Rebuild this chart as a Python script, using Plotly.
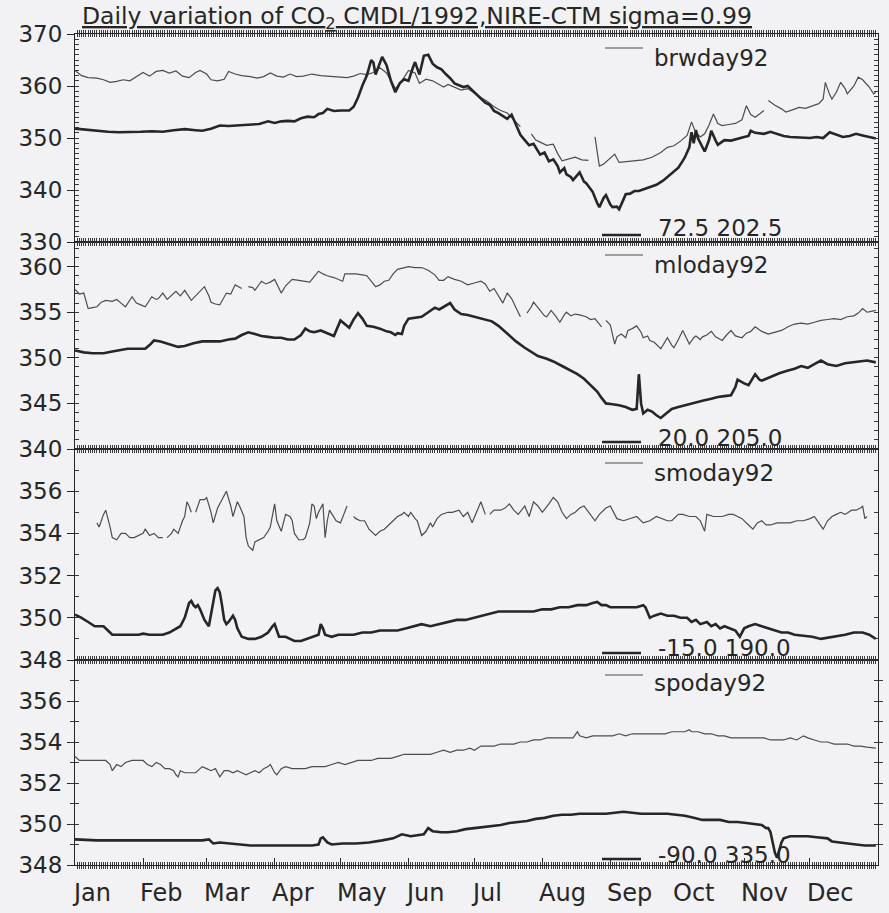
import plotly.graph_objects as go

# ---------------------------------------------------------------------------
# Daily CO2 (ppmv), 1992.  Day index 0 = 1 Jan.  Thin = station record,
# thick = NIRE-CTM model at sigma=0.99.  None marks a gap in the record.
# ---------------------------------------------------------------------------
MONTHS = ["Jan", "Feb", "Mar", "Apr", "May", "Jun",
          "Jul", "Aug", "Sep", "Oct", "Nov", "Dec"]
MONTH_START = [0, 31, 60, 91, 121, 152, 182, 213, 244, 274, 305, 335]

STATIONS = ["brwday92", "mloday92", "smoday92", "spoday92"]
SITE_COORDS = ["72.5 202.5", "20.0 205.0", "-15.0 190.0", "-90.0 335.0"]

brw_obs = [
    (0, 363.0), (3, 362.0), (6, 361.6), (10, 361.5), (13, 361.2), (16, 360.7),
    (19, 360.9), (22, 361.2), (25, 361.0), (28, 361.8), (31, 362.6), (34, 361.9),
    (37, 362.8), (40, 363.0), (43, 362.5), (46, 362.9), (49, 361.9), (52, 361.6),
    (55, 362.6), (57, 363.0), (60, 362.3), (62, 361.2), (65, 361.0), (68, 361.3),
    (70, 362.8), (73, 362.3), (76, 362.0), (80, 361.8), (83, 361.5), (86, 361.8),
    (89, 362.5), (92, 361.9), (95, 361.7), (98, 362.3), (101, 361.8), (104, 361.9),
    (108, 362.3), (112, 362.0), (116, 361.9), (120, 361.8), (124, 361.6),
    (127, 361.9), (130, 362.4), (133, 362.2), (136, 362.6), (139, 363.5),
    (142, 362.5), (146, 359.5), (149, 361.0), (152, 363.0), (155, 362.5),
    (157, 360.5), (160, 361.3), (163, 361.0), (166, 360.2), (168, 359.8),
    (170, 360.3), (173, 359.8), (176, 359.2), (179, 359.5), (182, 358.6),
    (185, 357.8), (188, 357.0), (191, 356.0), (194, 355.3), (197, 354.8),
    (200, 353.5), (203, 352.2), (205, None), (208, 350.8), (210, 349.6),
    (212, 349.2), (215, 348.6), (218, 348.8), (220, 347.0), (222, 345.6),
    (225, 346.0), (228, 346.3), (231, 345.8), (234, 345.7), (236, None),
    (237, 350.2), (239, 344.6), (241, 345.0), (243, 345.7), (246, 346.9),
    (248, 345.3), (251, 345.4), (255, 345.6), (259, 345.8), (263, 346.3),
    (267, 347.2), (270, 348.2), (273, 348.5), (276, 349.4), (279, 350.5),
    (281, 353.1), (283, 351.0), (285, 350.2), (287, 350.8), (289, 352.5),
    (291, 354.6), (293, 352.8), (295, 352.4), (298, 352.6), (301, 352.8),
    (304, 353.5), (306, 356.2), (308, 354.5), (310, 354.0), (312, 354.6),
    (314, 355.3), (315, None), (316, 357.2), (319, 356.3), (322, 355.6),
    (324, 355.0), (327, 355.4), (330, 355.9), (333, 355.7), (336, 356.2),
    (339, 356.6), (341, 357.5), (342, 360.7), (344, 358.3), (345, 357.5),
    (347, 358.8), (349, 360.7), (351, 359.5), (352, 358.5), (355, 360.0),
    (357, 361.7), (359, 361.2), (360, 360.7), (362, 359.8), (364, 358.5),
    (365, 358.8),
]

brw_model = [
    (0, 351.8), (5, 351.6), (10, 351.3), (15, 351.2), (20, 351.1), (25, 351.1),
    (30, 351.2), (35, 351.3), (40, 351.2), (45, 351.5), (50, 351.7), (55, 351.5),
    (58, 351.4), (62, 351.8), (66, 352.4), (70, 352.3), (75, 352.4), (80, 352.5),
    (84, 352.7), (88, 353.2), (91, 352.9), (94, 353.2), (97, 353.3), (100, 353.2),
    (103, 353.8), (106, 354.1), (109, 354.0), (111, 354.6), (113, 354.8),
    (115, 355.6), (118, 355.2), (121, 355.3), (125, 355.3), (127, 356.0),
    (129, 357.8), (131, 360.1), (133, 362.0), (135, 365.0), (136, 364.5),
    (137, 362.2), (139, 364.5), (140, 365.6), (142, 364.0), (144, 361.0),
    (146, 358.8), (148, 360.5), (150, 361.3), (152, 361.0), (154, 363.5),
    (155, 364.6), (157, 362.2), (159, 365.8), (161, 366.0), (163, 364.3),
    (165, 363.6), (167, 363.2), (169, 362.3), (171, 361.5), (173, 360.5),
    (175, 360.2), (177, 359.8), (179, 360.0), (181, 359.2), (183, 358.5),
    (185, 357.6), (187, 356.8), (189, 356.4), (191, 355.2), (193, 354.8),
    (195, 354.3), (197, 353.7), (199, 354.5), (201, 352.6), (203, 350.6),
    (205, 349.6), (207, 348.6), (209, 348.9), (211, 347.4), (212, 346.8),
    (214, 347.2), (216, 345.5), (218, 345.9), (220, 344.6), (221, 343.4),
    (223, 344.2), (224, 343.0), (226, 342.5), (227, 341.9), (229, 343.0),
    (230, 343.4), (232, 341.6), (233, 341.3), (235, 340.2), (236, 339.6),
    (238, 337.5), (239, 336.7), (241, 338.5), (242, 339.0), (244, 337.2),
    (245, 336.7), (247, 336.8), (248, 336.3), (250, 338.2), (251, 339.2),
    (253, 339.3), (255, 339.8), (257, 339.8), (260, 340.3), (263, 340.8),
    (265, 341.0), (268, 341.8), (270, 342.5), (272, 343.1), (275, 344.3),
    (277, 345.6), (278, 346.3), (280, 348.2), (281, 351.1), (282, 349.0),
    (283, 351.5), (284, 349.9), (286, 348.3), (287, 347.4), (289, 349.6),
    (290, 351.4), (292, 349.5), (293, 348.7), (295, 349.3), (296, 349.6),
    (299, 349.5), (302, 349.9), (305, 350.2), (307, 350.4), (308, 351.4),
    (310, 351.0), (314, 350.8), (317, 351.2), (320, 350.8), (323, 350.4),
    (326, 350.2), (329, 350.1), (332, 350.0), (335, 350.0), (338, 350.2),
    (341, 350.0), (344, 351.1), (347, 350.6), (350, 350.2), (353, 350.4),
    (356, 350.8), (359, 350.5), (362, 350.2), (365, 349.9),
]

mlo_obs = [
    (0, 357.5), (2, 357.0), (4, 357.1), (6, 355.4), (8, 355.5), (10, 355.6),
    (12, 356.1), (14, 356.3), (17, 356.2), (19, 356.4), (21, 356.0), (23, 355.6),
    (26, 356.7), (28, 356.0), (30, 355.8), (32, 355.6), (35, 356.7), (37, 356.4),
    (38, 356.5), (40, 357.1), (42, 356.4), (44, 356.9), (46, 357.3), (48, 356.8),
    (50, 357.4), (53, 356.3), (55, 356.8), (57, 357.2), (59, 357.8), (61, 356.8),
    (62, 356.1), (64, 355.9), (66, 355.8), (69, 357.1), (71, 357.0), (73, 358.0),
    (76, 357.6), (77, None), (79, 357.8), (81, 357.7), (82, 357.4), (85, 358.4),
    (87, 358.1), (89, 358.3), (91, 358.6), (93, 357.6), (94, 357.1), (96, 357.9),
    (99, 358.6), (102, 358.5), (104, 358.4), (107, 358.3), (109, 358.9),
    (111, 359.5), (113, 359.2), (115, 359.0), (118, 358.8), (120, 358.6),
    (122, 358.4), (123, 359.2), (126, 359.2), (128, 359.2), (131, 359.1),
    (133, 359.0), (135, 358.4), (137, 357.8), (139, 358.0), (141, 358.4),
    (143, 358.5), (145, 359.2), (147, 359.7), (150, 359.9), (152, 360.0),
    (155, 359.9), (158, 359.9), (161, 359.6), (164, 359.1), (166, 358.5),
    (168, 358.5), (170, 358.9), (173, 358.6), (176, 358.4), (179, 358.0),
    (182, 358.2), (185, 358.4), (187, 358.1), (189, 357.3), (191, 357.6),
    (193, 356.8), (195, 356.0), (197, 357.1), (199, 356.5), (201, 355.5),
    (203, 354.5), (204, None), (206, 354.9), (208, 355.6), (209, 356.1),
    (211, 355.5), (212, 355.2), (214, 354.6), (215, 354.5), (217, 355.2),
    (219, 354.6), (221, 353.9), (223, 354.7), (224, 355.0), (226, 354.6),
    (228, 354.8), (230, 354.7), (233, 354.5), (235, 354.2), (237, 354.3),
    (240, 353.4), (241, None), (242, 354.1), (244, 353.6), (246, 351.5),
    (247, 352.3), (249, 352.6), (251, 352.2), (252, 353.0), (254, 353.2),
    (256, 353.5), (258, 352.8), (259, 352.2), (261, 352.4), (262, 351.9),
    (264, 351.7), (267, 351.0), (269, 351.8), (270, 352.2), (272, 351.4),
    (273, 351.1), (275, 352.0), (277, 353.0), (279, 352.0), (280, 351.5),
    (282, 352.2), (283, 352.4), (285, 352.0), (286, 352.3), (288, 352.5),
    (290, 352.9), (292, 352.3), (295, 351.9), (297, 352.5), (299, 353.0),
    (301, 352.4), (304, 352.2), (306, 352.7), (308, 352.9), (310, 353.4),
    (313, 352.9), (316, 352.6), (319, 352.8), (322, 353.0), (325, 353.4),
    (328, 353.7), (331, 353.8), (334, 353.7), (337, 353.9), (340, 354.1),
    (343, 354.2), (346, 354.3), (349, 354.2), (352, 354.5), (355, 354.6),
    (357, 354.9), (359, 355.4), (361, 355.0), (363, 355.1), (365, 355.2),
]

mlo_model = [
    (0, 350.8), (4, 350.6), (8, 350.5), (13, 350.5), (17, 350.7), (21, 350.9),
    (24, 351.0), (28, 351.0), (32, 351.0), (34, 351.4), (36, 351.9), (39, 351.8),
    (42, 351.6), (45, 351.4), (47, 351.2), (50, 351.3), (54, 351.6), (58, 351.8),
    (62, 351.8), (66, 351.8), (70, 352.0), (73, 352.1), (76, 352.5), (79, 352.8),
    (82, 352.6), (85, 352.4), (88, 352.3), (91, 352.2), (94, 352.2), (97, 352.0),
    (100, 352.0), (103, 352.5), (105, 353.2), (107, 352.9), (109, 352.8),
    (112, 353.0), (115, 352.7), (118, 352.4), (121, 354.1), (123, 353.7),
    (125, 353.3), (127, 354.2), (129, 354.9), (131, 354.3), (133, 353.5),
    (136, 353.4), (139, 353.2), (142, 352.9), (144, 352.8), (146, 352.5),
    (147, 352.7), (149, 352.6), (150, 353.5), (152, 354.3), (155, 354.4),
    (158, 354.5), (161, 355.0), (164, 355.5), (166, 355.3), (168, 355.6),
    (171, 356.0), (173, 355.3), (176, 354.8), (179, 354.7), (182, 354.5),
    (186, 354.3), (190, 354.0), (193, 353.5), (197, 352.6), (201, 351.8),
    (205, 351.1), (208, 350.6), (211, 350.2), (215, 349.9), (218, 349.6),
    (222, 349.1), (226, 348.6), (229, 348.2), (232, 347.7), (235, 347.0),
    (238, 346.3), (240, 345.6), (242, 345.0), (245, 344.9), (248, 344.8),
    (251, 344.6), (254, 344.3), (256, 344.4), (257, 348.2), (258, 345.0),
    (259, 343.9), (261, 344.3), (263, 344.1), (265, 343.7), (267, 343.4),
    (269, 343.8), (272, 344.4), (275, 344.6), (278, 344.8), (282, 345.1),
    (286, 345.3), (290, 345.5), (293, 345.7), (296, 345.8), (299, 345.9),
    (301, 346.8), (302, 347.6), (305, 347.2), (307, 347.0), (309, 347.8),
    (310, 348.2), (312, 347.6), (313, 347.5), (317, 347.9), (321, 348.3),
    (325, 348.6), (328, 348.8), (331, 349.1), (334, 348.9), (337, 349.3),
    (340, 349.7), (343, 349.3), (347, 349.1), (351, 349.4), (355, 349.5),
    (358, 349.6), (361, 349.7), (365, 349.5),
]

smo_obs = [
    (10, 354.5), (11, 354.3), (13, 354.9), (14, 355.1), (16, 354.3), (17, 353.8),
    (19, 353.7), (21, 354.0), (23, 354.0), (25, 353.8), (27, 353.8), (29, 353.9),
    (31, 354.0), (32, 354.2), (34, 353.9), (36, 354.0), (38, 353.8), (40, 353.8),
    (41, None), (42, 353.8), (44, 354.0), (45, 354.2), (47, 354.0), (49, 354.6),
    (50, 354.8), (51, 355.5), (52, 355.3), (53, 355.0), (54, None), (55, 355.0),
    (57, 355.6), (59, 355.6), (60, 355.7), (62, 355.0), (63, 354.5), (65, 355.2),
    (66, 355.4), (68, 355.8), (69, 356.0), (71, 355.3), (72, 354.8), (74, 355.5),
    (75, 355.3), (77, 354.8), (78, 353.8), (79, 353.4), (81, 353.2), (82, 353.6),
    (84, 353.7), (86, 353.8), (88, 354.1), (89, 354.3), (91, 355.4), (92, 354.6),
    (94, 354.1), (95, 354.5), (96, 354.9), (98, 354.8), (99, 354.6), (100, 354.0),
    (102, 353.7), (104, 353.7), (105, 353.8), (107, 354.5), (108, 355.4),
    (109, 355.3), (110, 354.7), (111, 355.0), (113, 355.4), (114, 353.8),
    (115, 354.6), (116, 355.1), (118, 354.8), (119, 354.6), (121, 354.5),
    (123, 355.0), (124, 355.3), (125, None), (127, 354.8), (128, 354.7),
    (130, 354.6), (132, 354.6), (134, 354.2), (136, 354.0), (137, 353.9),
    (139, 354.1), (141, 354.2), (143, 354.4), (145, 354.6), (147, 354.8),
    (149, 354.9), (150, 355.0), (152, 354.8), (153, 355.0), (155, 354.7),
    (156, 354.6), (158, 353.9), (160, 354.1), (162, 354.5), (163, 354.3),
    (165, 354.7), (167, 354.9), (170, 355.0), (172, 355.0), (175, 355.1),
    (177, 354.8), (179, 355.0), (181, 354.5), (183, 355.0), (185, 355.5),
    (187, 354.9), (188, None), (189, 354.9), (191, 355.1), (194, 355.1),
    (196, 355.2), (198, 355.4), (200, 355.1), (202, 354.9), (205, 355.3),
    (207, 354.8), (209, 355.5), (211, 355.3), (213, 355.0), (216, 355.4),
    (218, 355.7), (220, 355.5), (222, 355.0), (224, 354.7), (226, 354.9),
    (228, 355.0), (230, 355.2), (232, 355.3), (234, 355.0), (237, 354.6),
    (239, 354.9), (240, 355.0), (242, 355.2), (244, 355.3), (246, 354.9),
    (247, 354.7), (250, 354.6), (253, 354.7), (256, 354.8), (259, 354.5),
    (262, 354.6), (265, 354.8), (268, 354.7), (270, 354.6), (272, 354.6),
    (275, 354.9), (277, 354.9), (280, 354.8), (283, 354.8), (285, 354.6),
    (287, 354.1), (288, 354.9), (291, 354.8), (293, 354.8), (295, 354.8),
    (298, 354.9), (300, 354.9), (302, 354.8), (304, 354.7), (307, 354.4),
    (309, 354.2), (311, 354.5), (313, 354.6), (315, 354.4), (317, 354.4),
    (320, 354.5), (323, 354.5), (326, 354.5), (329, 354.6), (332, 354.6),
    (335, 354.7), (337, 354.8), (339, 354.5), (341, 354.2), (343, 354.6),
    (345, 354.8), (347, 354.9), (349, 355.0), (351, 354.9), (354, 355.1),
    (356, 355.1), (358, 355.2), (359, 355.3), (360, 354.7), (361, 354.8),
]

smo_model = [
    (0, 350.15), (3, 350.0), (6, 349.8), (9, 349.6), (11, 349.6), (13, 349.6),
    (15, 349.4), (17, 349.2), (20, 349.2), (23, 349.2), (26, 349.2), (29, 349.2),
    (31, 349.25), (34, 349.2), (37, 349.2), (40, 349.2), (43, 349.3), (46, 349.5),
    (48, 349.6), (50, 350.0), (51, 350.3), (52, 350.7), (53, 350.8), (54, 350.6),
    (55, 350.5), (56, 350.6), (57, 350.4), (59, 349.9), (61, 349.6), (62, 350.2),
    (63, 350.9), (64, 351.3), (65, 351.4), (66, 351.2), (67, 350.6), (68, 349.9),
    (69, 349.7), (70, 349.8), (72, 350.1), (73, 349.9), (74, 349.5), (76, 349.1),
    (79, 349.0), (82, 349.0), (85, 349.1), (88, 349.3), (90, 349.6), (91, 349.7),
    (93, 349.1), (96, 349.1), (98, 349.0), (100, 348.9), (103, 348.9),
    (106, 349.0), (109, 349.1), (111, 349.2), (112, 349.7), (113, 349.5),
    (114, 349.2), (117, 349.1), (120, 349.2), (123, 349.2), (127, 349.2),
    (131, 349.3), (135, 349.3), (139, 349.4), (143, 349.4), (147, 349.4),
    (151, 349.5), (155, 349.6), (158, 349.7), (162, 349.6), (166, 349.7),
    (170, 349.8), (174, 349.9), (178, 349.9), (182, 350.0), (186, 350.1),
    (190, 350.2), (193, 350.3), (197, 350.3), (201, 350.3), (205, 350.3),
    (209, 350.3), (213, 350.4), (217, 350.4), (221, 350.5), (225, 350.5),
    (229, 350.6), (233, 350.6), (236, 350.7), (238, 350.75), (240, 350.6),
    (242, 350.6), (244, 350.5), (247, 350.5), (250, 350.5), (253, 350.5),
    (256, 350.5), (259, 350.6), (260, 350.5), (262, 350.0), (264, 350.1),
    (267, 350.2), (270, 350.1), (273, 350.1), (276, 350.0), (279, 350.0),
    (281, 349.8), (283, 349.9), (285, 349.7), (288, 349.8), (290, 349.6),
    (292, 349.7), (294, 349.5), (296, 349.6), (299, 349.5), (301, 349.4),
    (303, 349.1), (305, 349.5), (307, 349.6), (310, 349.7), (313, 349.6),
    (316, 349.5), (319, 349.4), (322, 349.3), (325, 349.3), (328, 349.2),
    (332, 349.15), (336, 349.1), (340, 349.0), (343, 349.05), (347, 349.1),
    (351, 349.2), (355, 349.3), (359, 349.3), (362, 349.2), (365, 349.0),
]

spo_obs = [
    (0, 353.3), (2, 353.1), (5, 353.1), (8, 353.1), (11, 353.1), (14, 353.1),
    (16, 352.9), (17, 352.6), (19, 352.9), (21, 352.8), (23, 353.0), (26, 353.1),
    (29, 353.1), (31, 353.1), (33, 352.9), (35, 352.8), (37, 353.0), (39, 352.9),
    (41, 352.7), (43, 352.7), (45, 352.6), (46, 352.4), (47, 352.3), (48, 352.6),
    (50, 352.5), (53, 352.5), (55, 352.5), (57, 352.7), (58, 352.8), (60, 352.7),
    (62, 352.6), (64, 352.7), (65, 352.5), (66, 352.3), (68, 352.6), (70, 352.6),
    (72, 352.5), (74, 352.6), (76, 352.5), (78, 352.4), (80, 352.5), (82, 352.6),
    (84, 352.5), (86, 352.7), (88, 352.8), (89, 352.9), (91, 352.5), (92, 352.4),
    (94, 352.7), (96, 352.8), (99, 352.7), (102, 352.7), (105, 352.7),
    (108, 352.8), (111, 352.8), (114, 352.8), (117, 352.9), (120, 353.0),
    (123, 352.9), (126, 353.0), (129, 353.1), (132, 353.1), (135, 353.1),
    (138, 353.2), (141, 353.2), (144, 353.2), (147, 353.3), (150, 353.4),
    (153, 353.4), (156, 353.4), (159, 353.4), (162, 353.4), (165, 353.5),
    (168, 353.6), (171, 353.5), (174, 353.6), (177, 353.6), (180, 353.7),
    (182, 353.6), (185, 353.8), (188, 353.8), (191, 353.8), (194, 353.9),
    (197, 353.9), (200, 353.9), (203, 354.0), (206, 354.0), (209, 354.1),
    (212, 354.1), (215, 354.2), (218, 354.2), (221, 354.2), (224, 354.2),
    (227, 354.2), (229, 354.5), (230, 354.3), (233, 354.2), (236, 354.3),
    (239, 354.3), (242, 354.3), (245, 354.3), (248, 354.4), (251, 354.3),
    (254, 354.4), (257, 354.4), (260, 354.4), (263, 354.4), (266, 354.4),
    (269, 354.4), (272, 354.5), (275, 354.5), (278, 354.5), (280, 354.6),
    (281, 354.5), (284, 354.5), (287, 354.4), (290, 354.4), (293, 354.3),
    (296, 354.3), (299, 354.2), (302, 354.2), (305, 354.2), (308, 354.2),
    (311, 354.2), (314, 354.2), (317, 354.1), (320, 354.1), (323, 354.1),
    (326, 354.2), (329, 354.1), (332, 354.3), (334, 354.2), (337, 354.1),
    (340, 354.0), (343, 354.0), (346, 353.9), (349, 353.9), (352, 353.9),
    (355, 353.8), (358, 353.8), (361, 353.75), (364, 353.7), (365, 353.7),
]

spo_model = [
    (0, 349.25), (10, 349.2), (20, 349.2), (30, 349.2), (40, 349.2), (50, 349.2),
    (58, 349.2), (61, 349.25), (63, 349.05), (66, 349.1), (70, 349.05),
    (75, 349.0), (80, 348.95), (90, 348.95), (100, 348.95), (108, 348.95),
    (111, 349.0), (112, 349.3), (113, 349.35), (115, 349.1), (117, 349.0),
    (122, 349.05), (128, 349.05), (134, 349.1), (140, 349.2), (145, 349.3),
    (149, 349.5), (153, 349.4), (156, 349.45), (159, 349.5), (161, 349.8),
    (163, 349.65), (167, 349.6), (170, 349.6), (174, 349.65), (178, 349.75),
    (182, 349.8), (186, 349.85), (190, 349.9), (194, 349.95), (198, 350.05),
    (202, 350.1), (206, 350.15), (210, 350.25), (214, 350.3), (218, 350.4),
    (222, 350.45), (226, 350.45), (230, 350.5), (234, 350.5), (238, 350.5),
    (242, 350.5), (246, 350.55), (250, 350.6), (254, 350.55), (258, 350.5),
    (262, 350.5), (266, 350.5), (270, 350.5), (274, 350.45), (278, 350.4),
    (282, 350.3), (286, 350.2), (290, 350.2), (294, 350.2), (298, 350.1),
    (302, 350.1), (306, 350.05), (310, 350.0), (313, 349.95), (315, 349.8),
    (316, 349.8), (317, 349.6), (318, 349.0), (319, 348.6), (320, 348.35),
    (321, 348.7), (322, 349.1), (323, 349.3), (326, 349.4), (330, 349.4),
    (334, 349.4), (338, 349.35), (341, 349.3), (343, 349.3), (345, 349.15),
    (348, 349.1), (352, 349.05), (356, 349.0), (360, 348.95), (365, 348.95),
]

# y range per panel and the step between labelled ticks
Y_RANGES = [(330, 370), (340, 362.7), (348, 358), (348, 358)]
Y_LABELS = [[330, 340, 350, 360, 370], [340, 345, 350, 355, 360],
            [348, 350, 352, 354, 356], [348, 350, 352, 354, 356]]

# ---------------------------------------------------------------------------
# Page geometry (pixels) and helpers to convert to paper fractions
# ---------------------------------------------------------------------------
W, H = 889, 913
ML, MR, MT, MB = 75, 11, 34, 48
PLOT_W = W - ML - MR
PLOT_H = H - MT - MB
PANEL_EDGES = [34, 242, 449, 660, 865]     # top of each panel + final bottom


def px_x(px):
    return (px - ML) / PLOT_W


def px_y(py):
    return (H - MB - py) / PLOT_H


FONT = "DejaVu Sans, Liberation Sans, Arial, sans-serif"
INK = "#262626"
TICK = "#3a3a3a"
THIN_COLOR = "#4d4d4d"
BG = "#f2f1f3"
FS = 23

fig = go.Figure()

series = [(brw_obs, brw_model), (mlo_obs, mlo_model),
          (smo_obs, smo_model), (spo_obs, spo_model)]

for i, (obs, model) in enumerate(series):
    ax = "" if i == 0 else str(i + 1)
    fig.add_trace(go.Scatter(
        x=[d for d, _ in obs], y=[v for _, v in obs], mode="lines",
        line=dict(color=THIN_COLOR, width=1.2), connectgaps=False,
        xaxis="x" + ax, yaxis="y" + ax, showlegend=False, name=STATIONS[i],
        hoverinfo="skip"))
    fig.add_trace(go.Scatter(
        x=[d for d, _ in model], y=[v for _, v in model], mode="lines",
        line=dict(color=INK, width=2.6), xaxis="x" + ax, yaxis="y" + ax,
        showlegend=False, name=SITE_COORDS[i], hoverinfo="skip"))
    # empty trace so the labelled overlay y axis of this panel is drawn
    fig.add_trace(go.Scatter(
        x=[None], y=[None], mode="lines", xaxis="x" + ax,
        yaxis="y" + str(i + 5), showlegend=False, hoverinfo="skip"))

# empty trace for the month-tick overlay on the bottom panel
fig.add_trace(go.Scatter(x=[None], y=[None], mode="lines", xaxis="x5",
                         yaxis="y4", showlegend=False, hoverinfo="skip"))

DAYS = list(range(0, 367))

layout = {}
for i in range(4):
    ax = "" if i == 0 else str(i + 1)
    top, bot = PANEL_EDGES[i], PANEL_EDGES[i + 1]
    lo, hi = Y_RANGES[i]
    # dense daily ticks on the top and bottom frame of each panel
    layout["xaxis" + ax] = dict(
        domain=[0, 1], range=[0, 366], anchor="y" + ax,
        tickmode="array", tickvals=DAYS, showticklabels=False,
        ticks="inside", ticklen=3, tickwidth=1, tickcolor=TICK,
        showline=True, linecolor=INK, linewidth=1.3, mirror="allticks",
        showgrid=False, zeroline=False,
        matches=None if i == 0 else "x",
    )
    # unit ticks on both sides of each panel
    layout["yaxis" + ax] = dict(
        domain=[px_y(bot), px_y(top)], range=[lo, hi], anchor="x" + ax,
        tickmode="array", tickvals=list(range(int(lo), int(hi) + 1)),
        showticklabels=False, ticks="inside", ticklen=4, tickwidth=1,
        tickcolor=TICK, showline=True, linecolor=INK, linewidth=1.3,
        mirror="allticks", showgrid=False, zeroline=False,
    )
    # labelled ticks on the left
    layout["yaxis" + str(i + 5)] = dict(
        overlaying="y" + ax, anchor="x" + ax, side="left", range=[lo, hi],
        tickmode="array", tickvals=Y_LABELS[i],
        ticktext=[str(v) for v in Y_LABELS[i]],
        ticks="outside", ticklen=7, tickwidth=1.3, tickcolor=INK,
        tickfont=dict(family=FONT, size=FS, color=INK),
        showline=False, showgrid=False, zeroline=False,
    )

# month ticks along the bottom of the lowest panel
layout["xaxis5"] = dict(
    overlaying="x4", anchor="y4", range=[0, 366],
    tickmode="array", tickvals=MONTH_START + [366], showticklabels=False,
    ticks="inside", ticklen=7, tickwidth=1.3, tickcolor=INK,
    showline=False, showgrid=False, zeroline=False,
)

annotations = []
shapes = []

# title
annotations.append(dict(
    text="<u>Daily variation of CO<sub>2</sub> CMDL/1992,NIRE-CTM sigma=0.99</u>",
    xref="paper", yref="paper", x=px_x(80), y=px_y(17),
    xanchor="left", yanchor="middle", showarrow=False,
    font=dict(family=FONT, size=23.5, color=INK)))

# month labels, left-aligned at the start of each month
for name, start in zip(MONTHS, MONTH_START):
    annotations.append(dict(
        text=name, xref="x4", yref="paper", x=start, y=px_y(893),
        xanchor="left", yanchor="middle", showarrow=False, xshift=-5,
        font=dict(family=FONT, size=24, color=INK)))

# per-panel legend keys: (thin key y, thin label y, thick key y, thick label y)
KEY_ROWS = [(48, 58, 235, 228), (255, 265, 442, 438),
            (463, 473, 653, 648), (675, 683, 859, 855)]
for i, (ty, tly, ky, kly) in enumerate(KEY_ROWS):
    shapes.append(dict(type="line", xref="paper", yref="paper",
                       x0=px_x(605), x1=px_x(643), y0=px_y(ty), y1=px_y(ty),
                       line=dict(color=THIN_COLOR, width=1.2)))
    annotations.append(dict(
        text=STATIONS[i], xref="paper", yref="paper", x=px_x(652),
        y=px_y(tly), xanchor="left", yanchor="middle", showarrow=False,
        font=dict(family=FONT, size=FS, color=INK)))
    shapes.append(dict(type="line", xref="paper", yref="paper",
                       x0=px_x(602), x1=px_x(641), y0=px_y(ky), y1=px_y(ky),
                       line=dict(color=INK, width=2.4)))
    annotations.append(dict(
        text=SITE_COORDS[i], xref="paper", yref="paper",
        x=px_x(656), y=px_y(kly), xanchor="left", yanchor="middle",
        showarrow=False, font=dict(family=FONT, size=FS, color=INK)))

fig.update_layout(
    width=W, height=H,
    margin=dict(l=ML, r=MR, t=MT, b=MB, pad=0),
    paper_bgcolor=BG, plot_bgcolor=BG,
    showlegend=False, hovermode=False,
    annotations=annotations, shapes=shapes,
    **layout,
)

fig.write_html("out.html")
